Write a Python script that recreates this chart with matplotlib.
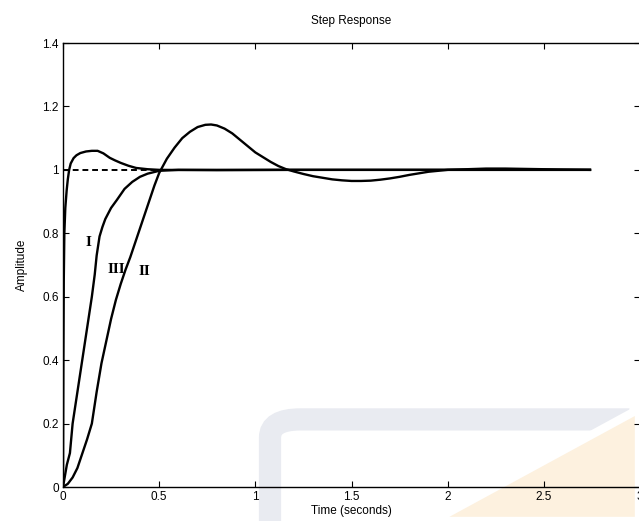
import matplotlib.pyplot as plt
from matplotlib.patches import Polygon, PathPatch
from matplotlib.path import Path

# Step response curves (time in s, amplitude)
t_I = [0, 0.002, 0.004, 0.007, 0.012, 0.019, 0.025, 0.032, 0.04, 0.055, 0.07,
       0.09, 0.12, 0.15, 0.18, 0.21, 0.243, 0.27, 0.3, 0.34, 0.38, 0.44, 0.5,
       0.8, 1.2, 2.0, 2.74]
y_I = [0, 0.4, 0.65, 0.8, 0.88, 0.935, 0.97, 1.0, 1.02, 1.037, 1.046,
       1.053, 1.058, 1.06, 1.06, 1.052, 1.038, 1.03, 1.022, 1.013, 1.006, 1.002, 1.0,
       0.999, 1.0, 1.0, 1.0]

t_II = [0, 0.025, 0.05, 0.075, 0.1, 0.125, 0.15, 0.175, 0.2, 0.225, 0.25, 0.275,
        0.3, 0.325, 0.35, 0.375, 0.4, 0.425, 0.45, 0.475, 0.5, 0.54, 0.58, 0.62,
        0.66, 0.7, 0.74, 0.77, 0.8, 0.84, 0.88, 0.92, 0.96, 1.0, 1.04, 1.08,
        1.12, 1.16, 1.2, 1.25, 1.3, 1.35, 1.4, 1.45, 1.5, 1.55, 1.6, 1.65,
        1.7, 1.75, 1.8, 1.85, 1.9, 1.95, 2.0, 2.1, 2.2, 2.3, 2.4, 2.5,
        2.6, 2.74]
y_II = [0, 0.01, 0.03, 0.06, 0.105, 0.15, 0.2, 0.3, 0.39, 0.46, 0.53, 0.59,
        0.64, 0.685, 0.725, 0.77, 0.815, 0.86, 0.905, 0.95, 0.99, 1.035, 1.07, 1.1,
        1.12, 1.135, 1.142, 1.143, 1.14, 1.13, 1.115, 1.095, 1.075, 1.055, 1.04, 1.025,
        1.012, 1.002, 0.995, 0.987, 0.98, 0.975, 0.97, 0.967, 0.965, 0.965, 0.966, 0.969,
        0.973, 0.978, 0.984, 0.989, 0.994, 0.997, 1.0, 1.002, 1.004, 1.004, 1.003, 1.002,
        1.001, 1.0]

t_III = [0, 0.02, 0.036, 0.05, 0.075, 0.1, 0.125, 0.15, 0.165, 0.175, 0.19,
         0.205, 0.22, 0.25, 0.28, 0.32, 0.36, 0.4, 0.44, 0.5, 0.6, 1.0, 1.5, 2.74]
y_III = [0, 0.07, 0.107, 0.2, 0.3, 0.4, 0.5, 0.6, 0.67, 0.73, 0.79,
         0.82, 0.845, 0.88, 0.905, 0.94, 0.962, 0.978, 0.988, 0.997, 1.0, 1.0, 1.0, 1.0]

ref_t = [0, 2.74]
ref_y = [1, 1]

labels = ["I", "II", "III"]
label_pos = [(0.13, 0.77), (0.425, 0.68), (0.275, 0.685)]

plt.rcParams['font.family'] = ['Liberation Sans', 'DejaVu Sans']

fig = plt.figure(figsize=(6.39, 5.21), dpi=100)

# faint watermark shapes behind the plot
grey = '#e9ebf1'
path = Path([(270 / 639, 0), (270 / 639, 0.16), (270 / 639, 0.195), (0.47, 0.195),
             (0.985, 0.195)],
            [Path.MOVETO, Path.LINETO, Path.CURVE3, Path.CURVE3, Path.LINETO])
fig.patches.append(PathPatch(path, transform=fig.transFigure, fill=False,
                             edgecolor=grey, linewidth=16, zorder=0))
fig.patches.append(Polygon([(433 / 639, 0), (1, 0), (1, 0.215)], closed=True,
                           transform=fig.transFigure, facecolor='#fdf1df',
                           edgecolor='white', linewidth=6, zorder=0.5))

ax = fig.add_axes([63 / 639, 34 / 521, 577 / 639, 444 / 521])
ax.set_zorder(2)
ax.patch.set_alpha(0)

ax.plot(ref_t, ref_y, color='black', linestyle=(0, (3, 2)), linewidth=1.4)
ax.plot(t_I, y_I, color='black', linewidth=1.7)
ax.plot(t_II, y_II, color='black', linewidth=1.7)
ax.plot(t_III, y_III, color='black', linewidth=1.7)

for lab, (x, y) in zip(labels, label_pos):
    ax.text(x, y, lab, fontsize=11, fontweight='bold', family='Liberation Serif',
            ha='center', va='center')

ax.set_xlim(0, 3)
ax.set_ylim(0, 1.4)
ax.set_xticks([0, 0.5, 1, 1.5, 2, 2.5, 3])
ax.set_xticklabels(['0', '0.5', '1', '1.5', '2', '2.5', '3'])
ax.set_yticks([0, 0.2, 0.4, 0.6, 0.8, 1, 1.2, 1.4])
ax.set_yticklabels(['0', '0.2', '0.4', '0.6', '0.8', '1', '1.2', '1.4'])
ax.tick_params(direction='in', top=True, right=True, labelsize=8.5, length=4, pad=3)
for s in ax.spines.values():
    s.set_linewidth(1.0)

ax.set_title('Step Response', fontsize=8.5, pad=14)
ax.set_xlabel('Time (seconds)', fontsize=8.5, labelpad=1)
ax.set_ylabel('Amplitude', fontsize=8.5, labelpad=10)

fig.savefig('out.png', dpi=100)
